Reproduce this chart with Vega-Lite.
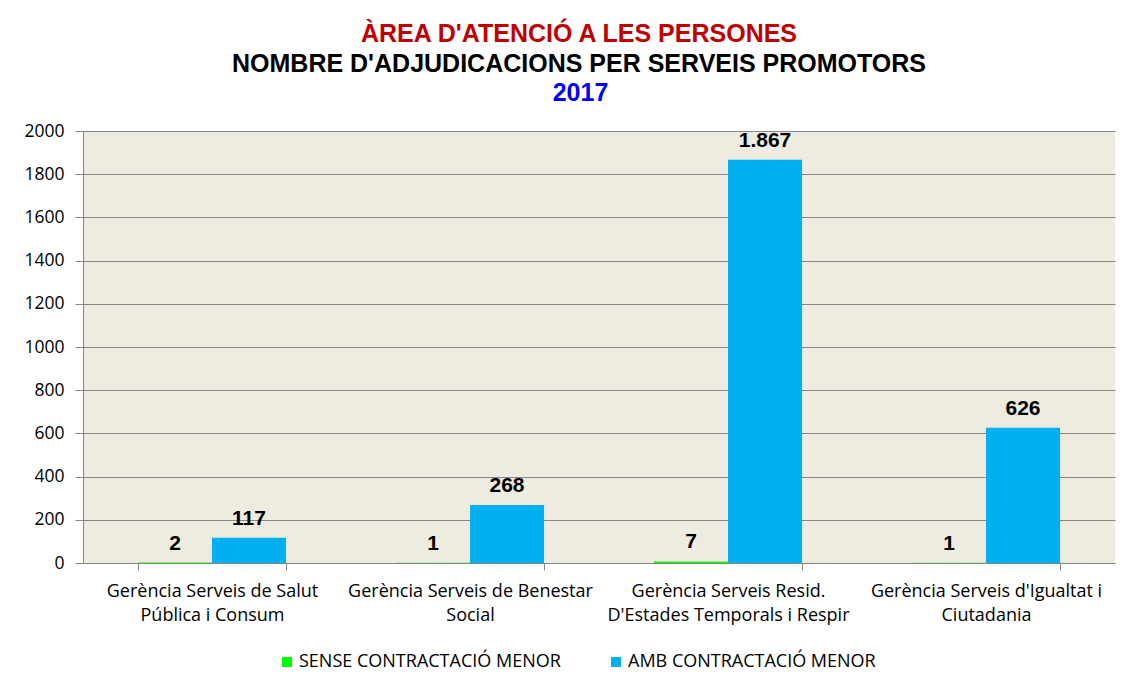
{
  "$schema": "https://vega.github.io/schema/vega-lite/v6.json",
  "width": 1032,
  "height": 432,
  "autosize": {"type": "none"},
  "padding": {"left": 83, "top": 131, "right": 15, "bottom": 126},
  "background": "white",
  "config": {
    "locale": {"number": {"decimal": ",", "thousands": ".", "grouping": [3], "currency": ["", " €"]}},
    "view": {"fill": "#EEECE1", "stroke": null},
    "font": "Open Sans"
  },
  "title": {
    "text": "ÀREA D'ATENCIÓ A LES PERSONES",
    "subtitle": "NOMBRE D'ADJUDICACIONS  PER SERVEIS PROMOTORS",
    "anchor": "middle",
    "frame": "group",
    "dx": -20,
    "font": "Liberation Sans",
    "fontSize": 25,
    "fontWeight": "bold",
    "color": "#C00000",
    "subtitleFont": "Liberation Sans",
    "subtitleFontSize": 25,
    "subtitleFontWeight": "bold",
    "subtitleColor": "#000000",
    "subtitlePadding": 5,
    "offset": 3
  },
  "data": {
    "values": [
      {"servei": "Gerència Serveis de Salut Pública i Consum", "tipus": "SENSE CONTRACTACIÓ MENOR", "adjudicacions": 2},
      {"servei": "Gerència Serveis de Salut Pública i Consum", "tipus": "AMB CONTRACTACIÓ MENOR", "adjudicacions": 117},
      {"servei": "Gerència Serveis de Benestar Social", "tipus": "SENSE CONTRACTACIÓ MENOR", "adjudicacions": 1},
      {"servei": "Gerència Serveis de Benestar Social", "tipus": "AMB CONTRACTACIÓ MENOR", "adjudicacions": 268},
      {"servei": "Gerència Serveis Resid. D'Estades Temporals i Respir", "tipus": "SENSE CONTRACTACIÓ MENOR", "adjudicacions": 7},
      {"servei": "Gerència Serveis Resid. D'Estades Temporals i Respir", "tipus": "AMB CONTRACTACIÓ MENOR", "adjudicacions": 1867},
      {"servei": "Gerència Serveis d'Igualtat i Ciutadania", "tipus": "SENSE CONTRACTACIÓ MENOR", "adjudicacions": 1},
      {"servei": "Gerència Serveis d'Igualtat i Ciutadania", "tipus": "AMB CONTRACTACIÓ MENOR", "adjudicacions": 626}
    ]
  },
  "encoding": {
    "x": {
      "field": "servei",
      "type": "nominal",
      "sort": ["Gerència Serveis de Salut Pública i Consum", "Gerència Serveis de Benestar Social", "Gerència Serveis Resid. D'Estades Temporals i Respir", "Gerència Serveis d'Igualtat i Ciutadania"],
      "scale": {"paddingInner": 0.426, "paddingOuter": 0.213},
      "axis": {
        "title": null,
        "labelAngle": 0,
        "tickBand": "extent",
        "tickSize": 7,
        "tickColor": "#868686",
        "domainColor": "#868686",
        "labelFont": "Open Sans",
        "labelFontSize": 18,
        "labelColor": "#000000",
        "labelPadding": 12,
        "labelLineHeight": 24,
        "labelBaseline": "top",
        "labelLimit": 400,
        "labelExpr": "datum.value == 'Gerència Serveis de Salut Pública i Consum' ? ['Gerència Serveis de Salut', 'Pública i Consum'] : datum.value == 'Gerència Serveis de Benestar Social' ? ['Gerència Serveis de Benestar', 'Social'] : datum.value == \"Gerència Serveis Resid. D'Estades Temporals i Respir\" ? ['Gerència Serveis Resid.', \"D'Estades Temporals i Respir\"] : datum.value == \"Gerència Serveis d'Igualtat i Ciutadania\" ? [\"Gerència Serveis d'Igualtat i\", 'Ciutadania'] : ''"
      }
    },
    "xOffset": {
      "field": "tipus",
      "type": "nominal",
      "sort": ["SENSE CONTRACTACIÓ MENOR", "AMB CONTRACTACIÓ MENOR"],
      "scale": {"paddingInner": 0, "paddingOuter": 0}
    },
    "y": {
      "field": "adjudicacions",
      "type": "quantitative",
      "scale": {"domain": [0, 2000], "nice": false},
      "axis": {
        "values": [0, 200, 400, 600, 800, 1000, 1200, 1400, 1600, 1800, 2000],
        "format": "d",
        "grid": true,
        "gridColor": "#868686",
        "gridWidth": 1,
        "domainColor": "#868686",
        "tickColor": "#868686",
        "tickSize": 8,
        "labelPadding": 11,
        "labelFont": "Open Sans",
        "labelFontSize": 17.5,
        "labelColor": "#000000",
        "title": "2017",
        "titleAngle": 0,
        "titleX": 497,
        "titleY": -31,
        "titleAlign": "center",
        "titleBaseline": "alphabetic",
        "titleFont": "Liberation Sans",
        "titleFontSize": 25,
        "titleFontWeight": "bold",
        "titleColor": "#0000FF"
      }
    }
  },
  "layer": [
    {
      "mark": {"type": "bar"},
      "encoding": {
        "color": {
          "field": "tipus",
          "type": "nominal",
          "scale": {"domain": ["SENSE CONTRACTACIÓ MENOR", "AMB CONTRACTACIÓ MENOR"], "range": ["#00FF00", "#00B0F0"]},
          "legend": {
            "title": null,
            "orient": "none",
            "legendX": 195,
            "legendY": 522,
            "direction": "horizontal",
            "symbolType": "square",
            "symbolSize": 100,
            "symbolStrokeWidth": 0,
            "labelFont": "Open Sans",
            "labelFontSize": 18,
            "labelColor": "#000000",
            "labelLimit": 400,
            "labelOffset": 3,
            "columnPadding": 46
          }
        }
      }
    },
    {
      "mark": {"type": "text", "baseline": "alphabetic", "dy": -13, "font": "Liberation Sans", "fontSize": 21, "fontWeight": "bold", "color": "#000000"},
      "encoding": {
        "text": {"field": "adjudicacions", "type": "quantitative", "format": ",d"}
      }
    }
  ]
}
